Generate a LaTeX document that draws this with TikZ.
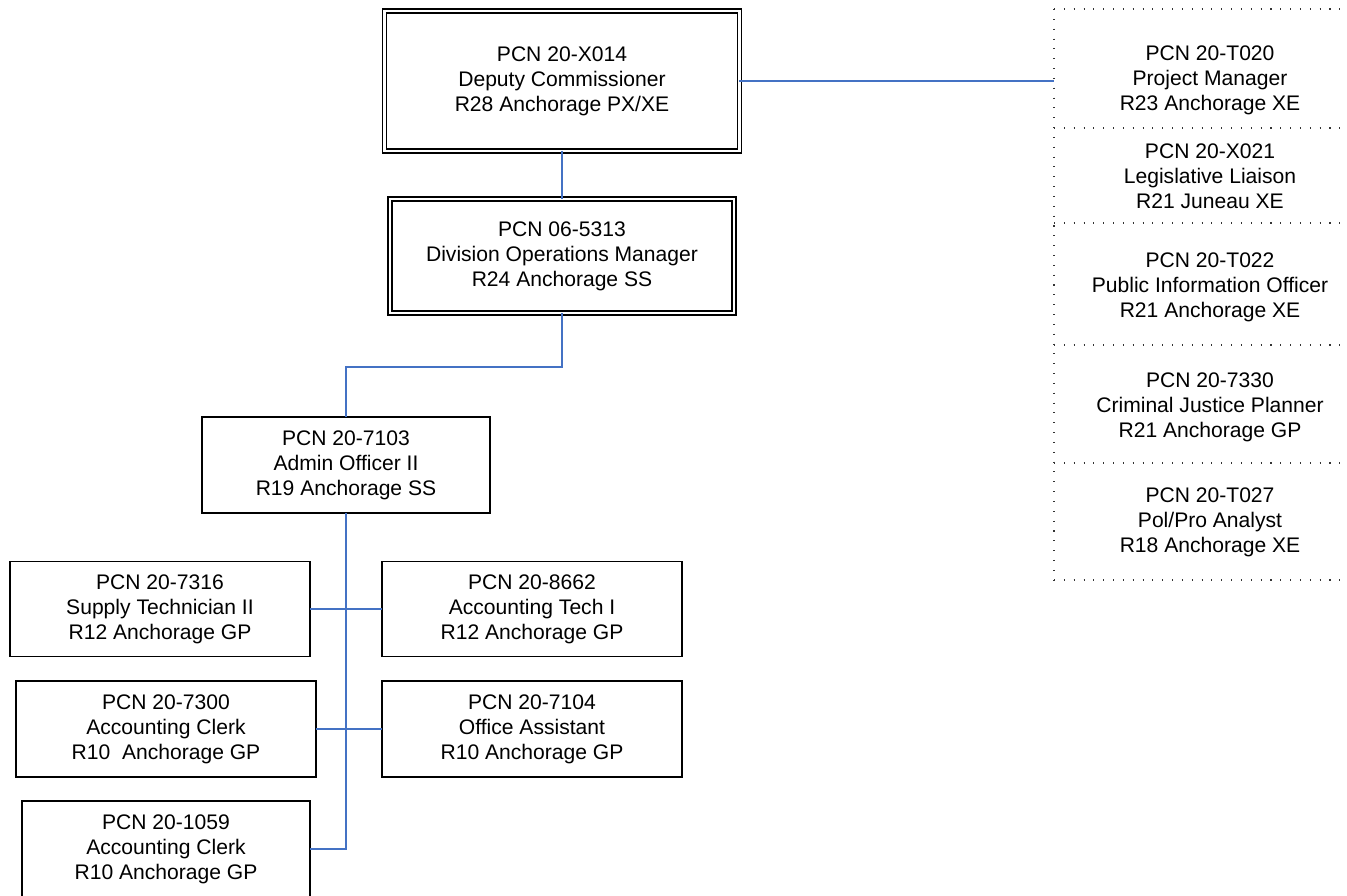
\documentclass[tikz,border=0pt]{standalone}
\usepackage{fontspec}
\setmainfont{Liberation Sans}
\usepackage{tikz}

\begin{document}
\begin{tikzpicture}[x=0.02cm,y=-0.02cm]
    \tikzstyle{staff}=[rectangle,draw=black,line width=1pt,inner sep=0pt,outer sep=0pt,align=center,font=\fontsize{12}{14.3}\selectfont,minimum width=6cm,minimum height=1.92cm]
    \tikzstyle{chief}=[staff,line width=0.85pt,double=white,double distance=1.6pt]
    \tikzstyle{cell}=[rectangle,inner sep=0pt,outer sep=0pt,align=center,font=\fontsize{12}{14.3}\selectfont,minimum width=6.24cm]
    \tikzstyle{link}=[draw={rgb,255:red,68;green,114;blue,196},line width=0.85pt]
    \tikzstyle{dotline}=[draw=black!80,line width=0.7pt,dash pattern=on 0.6pt off 5pt]
    \useasboundingbox (0,0) rectangle (1347,896);
    \node (dep)[chief,minimum width=7.1cm,minimum height=2.8cm]   at (562,81)  {PCN 20-X014\\Deputy Commissioner\\R28 Anchorage PX/XE};
    \node (div)[chief,minimum width=6.88cm,minimum height=2.28cm] at (562,256) {PCN 06-5313\\Division Operations Manager\\R24 Anchorage SS};
    \node (adm)[staff,minimum width=5.76cm]  at (346,465) {PCN 20-7103\\Admin Officer II\\R19 Anchorage SS};
    \node (sup)[staff,minimum height=1.9cm]  at (160,609) {PCN 20-7316\\Supply Technician II\\R12 Anchorage GP};
    \node (act)[staff,minimum height=1.9cm]  at (532,609) {PCN 20-8662\\Accounting Tech I\\R12 Anchorage GP};
    \node (clka)[staff]                      at (166,729) {PCN 20-7300\\Accounting Clerk\\R10\ \ Anchorage GP};
    \node (ofa)[staff]                       at (532,729) {PCN 20-7104\\Office Assistant\\R10 Anchorage GP};
    \node (clkb)[staff,minimum width=5.76cm] at (166,849) {PCN 20-1059\\Accounting Clerk\\R10 Anchorage GP};

    \node (prj)[cell] at (1210,80)  {PCN 20-T020\\Project Manager\\R23 Anchorage XE};
    \node (leg)[cell] at (1210,176) {PCN 20-X021\\Legislative Liaison\\R21 Juneau XE};
    \node (pio)[cell] at (1210,287) {PCN 20-T022\\Public Information Officer\\R21 Anchorage XE};
    \node (cjp)[cell] at (1210,407) {PCN 20-7330\\Criminal Justice Planner\\R21 Anchorage GP};
    \node (ppa)[cell] at (1210,522) {PCN 20-T027\\Pol/Pro Analyst\\R18 Anchorage XE};

    % dotted frame of the staff group
    \draw[dotline] (1054,9)   -- (1347,9);
    \draw[dotline] (1054,128) -- (1347,128);
    \draw[dotline] (1054,223) -- (1347,223);
    \draw[dotline] (1054,345) -- (1347,345);
    \draw[dotline] (1054,463) -- (1347,463);
    \draw[dotline] (1054,580) -- (1347,580);
    \draw[dotline] (1054,9)   -- (1054,580);

    \coordinate (split) at (562,367);
    \draw[link] (dep.east)  -- (dep.east -| prj.west);
    \draw[link] (dep.south) -- (div.north);
    \draw[link] (div.south) -- (split) -| (adm.north);
    \draw[link] (adm.south) |- (clkb.east);
    \draw[link] (sup.east)  -- (act.west);
    \draw[link] (clka.east) -- (ofa.west);
\end{tikzpicture}
\end{document}
